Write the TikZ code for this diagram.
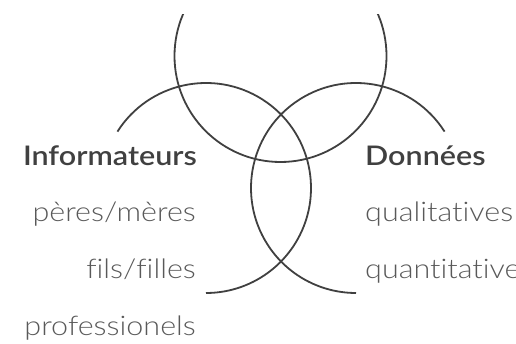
\documentclass[tikz,border=0pt]{standalone}
\usepackage{fontspec}
\setmainfont{Lato}[UprightFont={* Light}, BoldFont={* Semibold}, Ligatures=NoCommon, FakeStretch=1.13]
\definecolor{linec}{HTML}{404040}
\definecolor{headc}{HTML}{404040}
\definecolor{itemc}{HTML}{595959}
\tikzset{
  ring/.style={draw=linec, line width=1.8pt},
  head/.style={inner sep=0pt, text=headc, font=\fontsize{27}{32}\selectfont\bfseries},
  item/.style={inner sep=0pt, text=itemc, font=\fontsize{27}{32}\selectfont},
}
\begin{document}
\begin{tikzpicture}[x=1pt,y=1pt]
\useasboundingbox (0,0) rectangle (516,344);
\coordinate (ctop) at (280.5,288);
\coordinate (cleft) at (206,156);
\coordinate (cright) at (356,156);
\begin{scope}
  \clip (0,0) rectangle (516,329);
  \draw[ring] (ctop) circle[radius=106];
\end{scope}
\draw[ring] (cleft) ++(147.5:105) arc[start angle=147.5, end angle=-90, radius=105];
\draw[ring] (cright) ++(32.5:105) arc[start angle=32.5, end angle=270, radius=105];
\node[head, anchor=base east] (inf) at (197,178) {Informateurs};
\node[item, anchor=base east] (peres) at (196,122) {pères/mères};
\node[item, anchor=base east] (fils) at (196,65) {fils/filles};
\node[item, anchor=base east] (prof) at (196,8) {professionels};
\node[head, anchor=base west] (don) at (365,178) {Données};
\node[item, anchor=base west] (qual) at (365,122) {qualitatives};
\node[item, anchor=base west] (quant) at (365,65) {quantitatives};
\end{tikzpicture}
\end{document}
